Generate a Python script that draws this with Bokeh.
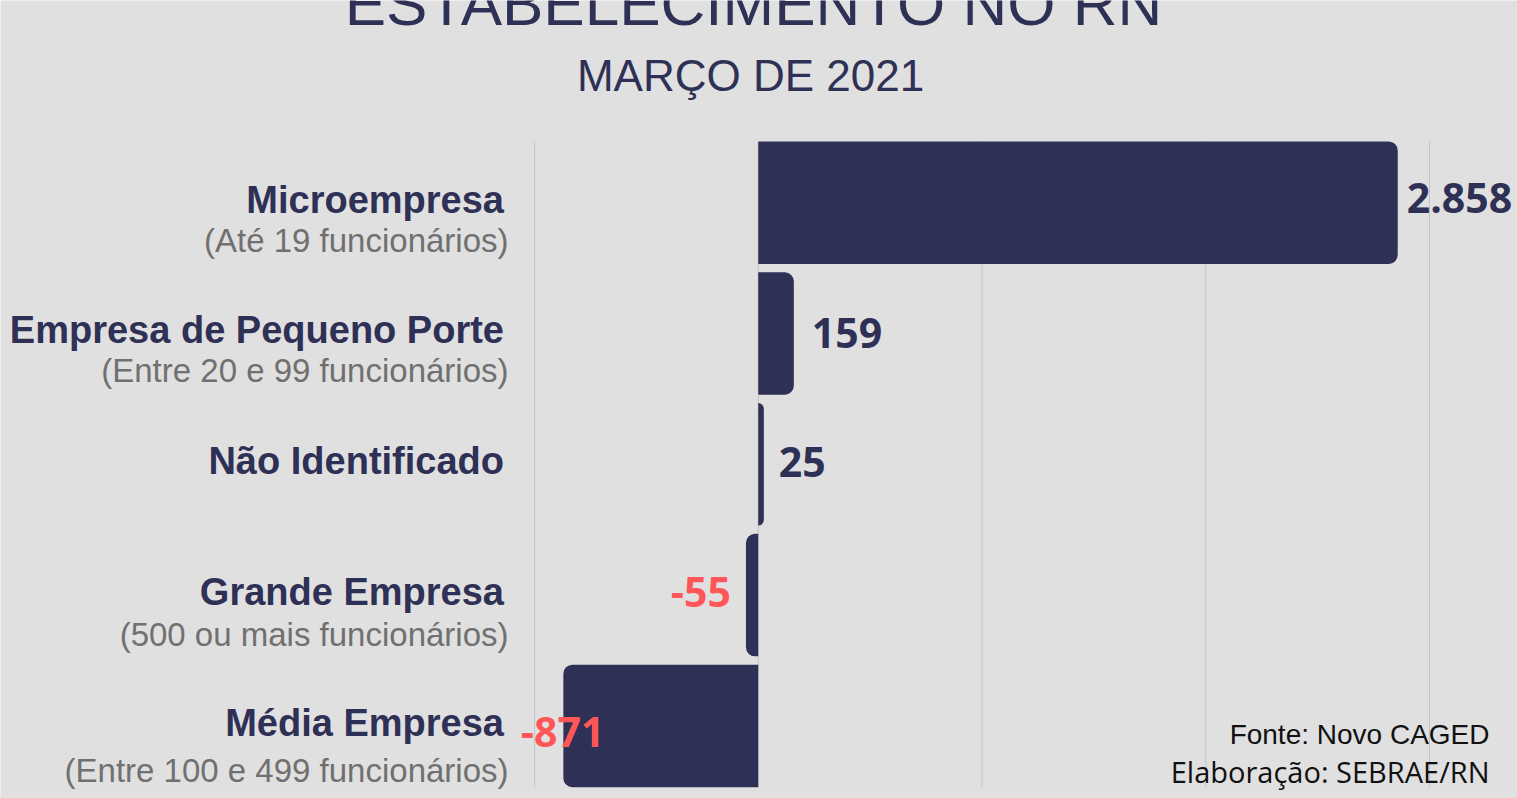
from bokeh.plotting import figure
from bokeh.models import ColumnDataSource, Range1d
from bokeh.core.properties import value
from bokeh.embed import file_html
from bokeh.resources import INLINE

# ---------------- data ----------------
categories = ["Microempresa", "Empresa de Pequeno Porte", "Não Identificado",
              "Grande Empresa", "Média Empresa"]
subtitles = ["(Até 19 funcionários)", "(Entre 20 e 99 funcionários)", "",
             "(500 ou mais funcionários)", "(Entre 100 e 499 funcionários)"]
saldo = [2858, 159, 25, -55, -871]
value_labels = ["2.858", "159", "25", "-55", "-871"]
grid_ticks = [-1000, 0, 1000, 2000, 3000]

title_text = "ESTABELECIMENTO NO RN"
subtitle_text = "MARÇO DE 2021"
footer_1 = "Fonte: Novo CAGED"
footer_2 = "Elaboração: SEBRAE/RN"

# ---------------- style / layout ----------------
BG = "#e0e0e0"
NAVY = "#2e3055"
RED = "#ff5757"
GREY = "#707070"
GRID = "#c4c4c6"

W, H = 1517, 798
ZERO_PX = 757.75      # canvas x of value 0
SX = 0.22375          # px per unit
ROW0_PX = 202.2       # canvas y of first row centre
PITCH = 130.8         # px between rows
BAR_H = 0.9365
FIX = 0.38            # baseline correction (em)

FS_LAB, FS_SUB, FS_VAL = 38, 33, 41

n = len(categories)
x_start = -ZERO_PX / SX
x_end = (W - ZERO_PX) / SX
y_end = (n - 1) + ROW0_PX / PITCH
y_start = y_end - H / PITCH


def dx(px):
    return x_start + px / SX


def dy(py, fs):
    # canvas baseline py -> data y, corrected for rendered baseline shift
    return y_end - (py - FIX * fs) / PITCH


ypos = [n - 1 - i for i in range(n)]

# per-row label placement tweaks (screen px, baseline below row centre)
val_dx = [9, 18, 15, -15, 41]
val_dy = [11.1, 15.3, 13, 12, 21.5]
sub_dy = [50.5, 49.7, 50, 52, 57.2]
lab_dy = 11.3

p = figure(width=W, height=H, x_range=Range1d(x_start, x_end),
           y_range=Range1d(y_start, y_end), output_backend="svg",
           toolbar_location=None, min_border=0,
           x_axis_location=None, y_axis_location=None,
           background_fill_color=BG, border_fill_color=BG,
           outline_line_color=None)
p.grid.visible = False

# grid lines
g_top = ypos[0] + BAR_H / 2
g_bot = ypos[-1] - BAR_H / 2
p.segment(x0=grid_ticks, x1=grid_ticks, y0=[g_top] * len(grid_ticks),
          y1=[g_bot] * len(grid_ticks), line_color=GRID, line_width=1)

# bars
pos = [i for i, v in enumerate(saldo) if v >= 0]
neg = [i for i, v in enumerate(saldo) if v < 0]


def src(idx, left, right):
    return ColumnDataSource(dict(
        y=[ypos[i] for i in idx], left=left, right=right,
        lab=[value_labels[i] for i in idx],
        xo=[val_dx[i] for i in idx],
        yo=[val_dy[i] - FIX * FS_VAL for i in idx]))


src_pos = src(pos, [0] * len(pos), [saldo[i] for i in pos])
src_neg = src(neg, [saldo[i] for i in neg], [0] * len(neg))

p.hbar(y="y", left="left", right="right", height=BAR_H, source=src_pos,
       fill_color=NAVY, line_color=None, border_radius=(0, 9, 9, 0))
p.hbar(y="y", left="left", right="right", height=BAR_H, source=src_neg,
       fill_color=NAVY, line_color=None, border_radius=(9, 0, 0, 9))

# value labels
p.text(x="right", y="y", text="lab", source=src_pos, x_offset="xo",
       y_offset="yo", text_align="left", text_baseline="alphabetic",
       text_font=value("Open Sans"), text_font_style="bold",
       text_font_size=f"{FS_VAL}px", text_color=NAVY)
p.text(x="left", y="y", text="lab", source=src_neg, x_offset="xo",
       y_offset="yo", text_align="right", text_baseline="alphabetic",
       text_font=value("Open Sans"), text_font_style="bold",
       text_font_size=f"{FS_VAL}px", text_color=RED)

# category labels
lab_x = dx(503.5)
sub_x = dx(508)
p.text(x=[lab_x] * n, y=ypos, text=categories,
       y_offset=lab_dy - FIX * FS_LAB,
       text_align="right", text_baseline="alphabetic",
       text_font=value("Liberation Sans"), text_font_style="bold",
       text_font_size=f"{FS_LAB}px", text_color=NAVY)
sub_src = ColumnDataSource(dict(x=[sub_x] * n, y=ypos, t=subtitles,
                                yo=[d - FIX * FS_SUB for d in sub_dy]))
p.text(x="x", y="y", text="t", source=sub_src, y_offset="yo",
       text_align="right", text_baseline="alphabetic",
       text_font=value("Liberation Sans"), text_font_size=f"{FS_SUB}px",
       text_color=GREY)

# titles
p.text(x=[dx(753)], y=[dy(26.7, 62)], text=[title_text], text_align="center",
       text_baseline="alphabetic", text_font=value("Liberation Sans"),
       text_font_size="62px", text_color=NAVY)
p.text(x=[dx(750)], y=[dy(91.7, 44)], text=[subtitle_text],
       text_align="center", text_baseline="alphabetic",
       text_font=value("Liberation Sans"), text_font_size="44px",
       text_color=NAVY)

# footer
p.text(x=[dx(1489)], y=[dy(745, 28)], text=[footer_1], text_align="right",
       text_baseline="alphabetic", text_font=value("Liberation Sans"),
       text_font_size="28px", text_color="#111111")
p.text(x=[dx(1489)], y=[dy(781.7, 29)], text=[footer_2], text_align="right",
       text_baseline="alphabetic", text_font=value("Open Sans"),
       text_font_size="29px", text_color="#111111")

open("out.html", "w").write(file_html(p, INLINE))
